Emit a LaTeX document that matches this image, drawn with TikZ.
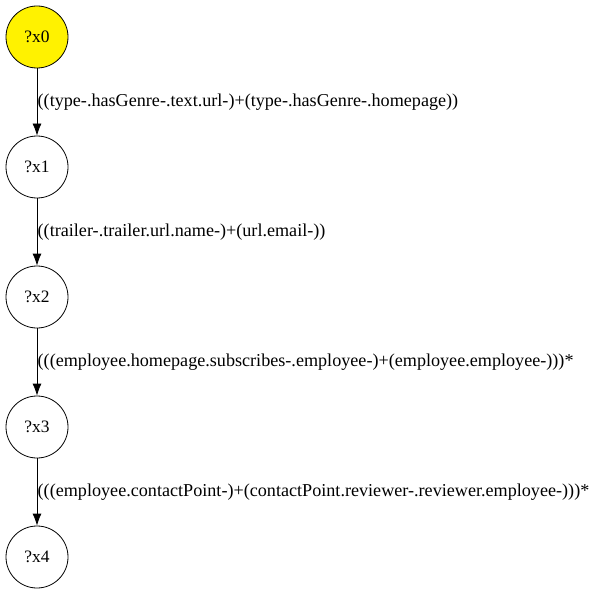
\documentclass[tikz,border=0pt]{standalone}
\usepackage{fontspec}
\setmainfont{Liberation Serif}
\usetikzlibrary{arrows.meta}
\begin{document}
\begin{tikzpicture}[x=1bp,y=-1bp,
  var/.style={circle,draw=black,line width=0.8bp,minimum size=62bp,inner sep=0pt,font=\fontsize{17.5}{20}\selectfont},
  lbl/.style={anchor=west,inner sep=0pt,font=\fontsize{18.2}{21}\selectfont},
  edge/.style={-{Latex[length=12bp,width=9bp]},line width=0.8bp}]
\useasboundingbox (0,0) rectangle (597,595);
\node[var,fill=yellow] (x0) at (37,37) {?x0};
\node[var] (x1) at (37,167) {?x1};
\node[var] (x2) at (37,297) {?x2};
\node[var] (x3) at (37,427) {?x3};
\node[var] (x4) at (37,557) {?x4};
\draw[edge] (x0) -- (x1);
\draw[edge] (x1) -- (x2);
\draw[edge] (x2) -- (x3);
\draw[edge] (x3) -- (x4);
\node[lbl] (l0) at (37.5,102) {((type-.hasGenre-.text.url-)+(type-.hasGenre-.homepage))};
\node[lbl] (l1) at (37.5,232) {((trailer-.trailer.url.name-)+(url.email-))};
\node[lbl] (l2) at (37.5,362) {(((employee.homepage.subscribes-.employee-)+(employee.employee-)))*};
\node[lbl] (l3) at (37.5,492) {(((employee.contactPoint-)+(contactPoint.reviewer-.reviewer.employee-)))*};
\end{tikzpicture}
\end{document}
